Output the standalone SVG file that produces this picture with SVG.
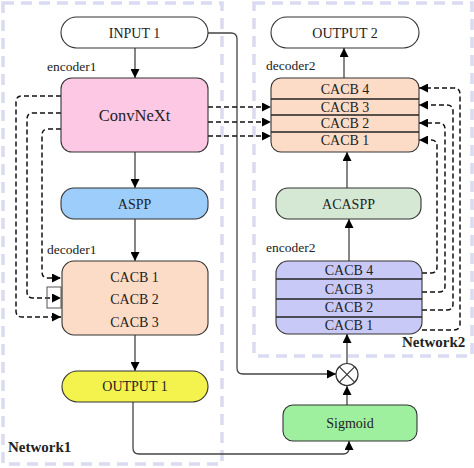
<svg xmlns="http://www.w3.org/2000/svg" width="474" height="468" viewBox="0 0 474 468">
<defs>
<style>
.box{stroke:#333;stroke-width:1.1}
.t{font-size:14px;fill:#222;text-anchor:middle}
.lbl{font-size:13.5px;fill:#222}
.net{font-size:15px;font-weight:bold;fill:#222}
.solid{fill:none;stroke:#444;stroke-width:1.3}
.dash{fill:none;stroke:#111;stroke-width:1.5;stroke-dasharray:5 3}
.frame{fill:none;stroke:#dadaf3;stroke-width:3.5;stroke-dasharray:11 7}
.div{stroke:#222;stroke-width:1.3}
</style>
<marker id="ah" viewBox="0 0 10 10" refX="10" refY="5" markerWidth="9" markerHeight="9" markerUnits="userSpaceOnUse" orient="auto">
<path d="M0,0 L10,5 L0,10 Z" fill="#000"/>
</marker>
</defs>
<rect width="474" height="468" fill="#fff"/>
<g font-family="'Liberation Serif', 'DejaVu Serif', 'Times New Roman', serif">

<g id="frames">
<rect class="frame" x="3" y="3" width="219" height="461"/>
<rect class="frame" x="254" y="3" width="218" height="353"/>
<text class="net" x="8" y="452">Network1</text>
<text class="net" x="402" y="347">Network2</text>
</g>

<g id="connectors">
<path class="solid" d="M135,48 V78" marker-end="url(#ah)"/>
<path class="solid" d="M135,152 V188" marker-end="url(#ah)"/>
<path class="solid" d="M135,219 V261" marker-end="url(#ah)"/>
<path class="solid" d="M135,335 V371" marker-end="url(#ah)"/>
<path class="solid" d="M208,33 H231 Q237,33 237,39 V368 Q237,374 243,374 H336" marker-end="url(#ah)"/>
<path class="solid" d="M133,402 V448 Q133,454 139,454 H343 Q349,454 349,448 V441" marker-end="url(#ah)"/>
<path class="solid" d="M347,405 V386" marker-end="url(#ah)"/>
<path class="solid" d="M347,363 V334" marker-end="url(#ah)"/>
<path class="solid" d="M349,261 V219" marker-end="url(#ah)"/>
<path class="solid" d="M347,188 V152" marker-end="url(#ah)"/>
<path class="solid" d="M344,78 V48" marker-end="url(#ah)"/>
<path class="dash" d="M61,96 H22 Q16,96 16,102 V311 Q16,317 22,317 H61" marker-end="url(#ah)"/>
<path class="dash" d="M61,113 H33 Q27,113 27,119 V292 Q27,298 33,298 H61" marker-end="url(#ah)"/>
<path class="dash" d="M61,129 H48 Q42,129 42,135 V272 Q42,278 48,278 H61" marker-end="url(#ah)"/>
<rect x="47" y="287" width="14" height="21" fill="none" stroke="#555" stroke-width="1"/>
<path class="dash" d="M208,107 H271" marker-end="url(#ah)"/>
<path class="dash" d="M208,122 H271" marker-end="url(#ah)"/>
<path class="dash" d="M208,136 H271" marker-end="url(#ah)"/>
<path class="dash" d="M422,273 H431 Q437,273 437,267 V146 Q437,140 431,140 H419" marker-end="url(#ah)"/>
<path class="dash" d="M422,292 H439 Q445,292 445,286 V129 Q445,123 439,123 H419" marker-end="url(#ah)"/>
<path class="dash" d="M422,310 H447 Q453,310 453,304 V111 Q453,105 447,105 H419" marker-end="url(#ah)"/>
<path class="dash" d="M422,330 H454 Q460,330 460,324 V94 Q460,88 454,88 H419" marker-end="url(#ah)"/>
</g>

<g id="input1">
<rect class="box" x="61" y="17" width="147" height="31" rx="15.5" fill="#fff"/>
<text class="t" x="134.5" y="38">INPUT 1</text>
</g>

<g id="encoder1">
<text class="lbl" x="47" y="71">encoder1</text>
<rect class="box" x="61" y="78" width="147" height="74" rx="11" fill="#fcc8e3"/>
<text class="t" x="134.5" y="121" style="font-size:16.5px">ConvNeXt</text>
</g>

<g id="aspp">
<rect class="box" x="61" y="188" width="147" height="31" rx="13" fill="#9dcdfb"/>
<text class="t" x="134.5" y="208.5">ASPP</text>
</g>

<g id="decoder1">
<text class="lbl" x="47" y="254">decoder1</text>
<rect class="box" x="62" y="261" width="146" height="74" rx="12" fill="#fcdcc6"/>
<text class="t" x="134.5" y="282">CACB 1</text>
<text class="t" x="134.5" y="304">CACB 2</text>
<text class="t" x="134.5" y="327">CACB 3</text>
</g>

<g id="output1">
<rect class="box" x="62" y="371" width="146" height="31" rx="15.5" fill="#f4f34e"/>
<text class="t" x="135" y="391">OUTPUT 1</text>
</g>

<g id="output2">
<rect class="box" x="271" y="17" width="148" height="31" rx="15.5" fill="#fff"/>
<text class="t" x="345" y="38">OUTPUT 2</text>
</g>

<g id="decoder2">
<text class="lbl" x="266" y="70">decoder2</text>
<rect class="box" x="271" y="78" width="148" height="74" rx="10" fill="#fcdcc6"/>
<line class="div" x1="271" y1="99" x2="419" y2="99"/>
<line class="div" x1="271" y1="115" x2="419" y2="115"/>
<line class="div" x1="271" y1="132" x2="419" y2="132"/>
<text class="t" x="345" y="94">CACB 4</text>
<text class="t" x="345" y="112">CACB 3</text>
<text class="t" x="345" y="128">CACB 2</text>
<text class="t" x="345" y="145">CACB 1</text>
</g>

<g id="acaspp">
<rect class="box" x="276" y="188" width="145" height="31" rx="12" fill="#d5e8d4"/>
<text class="t" x="348.5" y="208.5">ACASPP</text>
</g>

<g id="encoder2">
<text class="lbl" x="266" y="252">encoder2</text>
<rect class="box" x="276" y="261" width="146" height="73" rx="12" fill="#c9c9f7"/>
<line class="div" x1="276" y1="279" x2="422" y2="279"/>
<line class="div" x1="276" y1="299" x2="422" y2="299"/>
<line class="div" x1="276" y1="317" x2="422" y2="317"/>
<text class="t" x="349" y="275">CACB 4</text>
<text class="t" x="349" y="293.5">CACB 3</text>
<text class="t" x="349" y="312">CACB 2</text>
<text class="t" x="349" y="330">CACB 1</text>
</g>

<g id="multiply">
<circle cx="347" cy="374.5" r="11" fill="#fff" stroke="#333" stroke-width="1.2"/>
<path d="M339.2,366.7 L354.8,382.3 M354.8,366.7 L339.2,382.3" stroke="#333" stroke-width="1.2"/>
</g>

<g id="sigmoid">
<rect class="box" x="283" y="405" width="134" height="36" rx="10" fill="#9ef09e"/>
<text class="t" x="350" y="428">Sigmoid</text>
</g>
</g>
</svg>
